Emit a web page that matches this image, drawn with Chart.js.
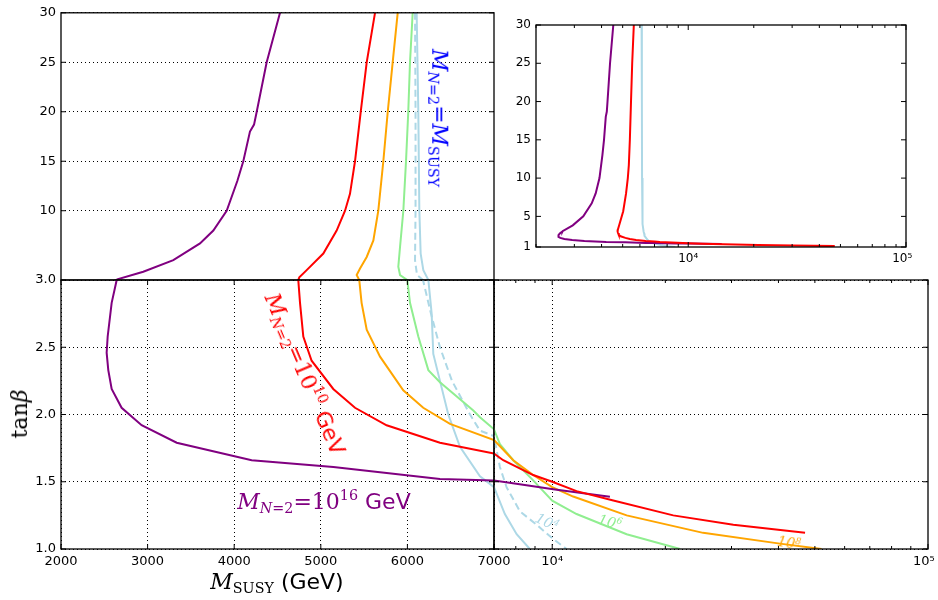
<!DOCTYPE html>
<html>
<head>
<meta charset="utf-8">
<script src="https://cdn.jsdelivr.net/npm/chart.js@4.4.1/dist/chart.umd.min.js"></script>
<style>
html, body { margin: 0; padding: 0; background: #fff; overflow: hidden; }
#wrap { position: relative; width: 938px; height: 600px; overflow: hidden; background: #fff; }
#wrap canvas { position: absolute; left: 0; top: 0; }
.t { position: absolute; white-space: nowrap; line-height: 1; font-family: 'DejaVu Serif', serif; transform: translate(-50%, -50%); }
.t i { font-family: 'DejaVu Serif', serif; font-style: italic; }
.t .s { font-family: 'DejaVu Sans', sans-serif; }
.t sub { font-size: 0.65em; vertical-align: -0.3em; }
.t sup { font-size: 0.65em; vertical-align: 0.6em; }
</style>
</head>
<body>
<div id="wrap">
  <canvas id="upper" width="1000" height="660"></canvas>
  <canvas id="lowerLeft" width="1000" height="660"></canvas>
  <canvas id="lowerRight" width="1000" height="660"></canvas>
  <canvas id="inset" width="1000" height="660"></canvas>

  <div class="t" style="left:438px;top:118px;font-size:22px;color:#0000ff;transform:translate(-50%,-50%) rotate(90deg)"><i>M</i><sub><i>N</i>=2</sub>=<i>M</i><sub>SUSY</sub></div>
  <div class="t" style="left:305px;top:374px;font-size:22px;color:#ff0000;transform:translate(-50%,-50%) rotate(67deg)"><i>M</i><sub><i>N</i>=2</sub>=10<sup>10</sup><span class="s">&nbsp;GeV</span></div>
  <div class="t" style="left:324px;top:502px;font-size:22px;color:#800080"><i>M</i><sub><i>N</i>=2</sub>=10<sup>16</sup><span class="s">&nbsp;GeV</span></div>
  <div class="t" style="left:547px;top:522px;font-size:14px;color:#add8e6;transform:translate(-50%,-50%) rotate(25deg)"><i>10<sup>4</sup></i></div>
  <div class="t" style="left:610px;top:522px;font-size:14px;color:#90ee90;transform:translate(-50%,-50%) rotate(15deg)"><i>10<sup>6</sup></i></div>
  <div class="t" style="left:789px;top:543px;font-size:14px;color:#ffa500;transform:translate(-50%,-50%) rotate(10deg)"><i>10<sup>8</sup></i></div>
  <div class="t" style="left:277px;top:583px;font-size:22px;color:#000"><i>M</i><sub>SUSY</sub><span class="s">&nbsp;(GeV)</span></div>
  <div class="t" style="left:20px;top:414px;font-size:22px;color:#000;transform:translate(-50%,-50%) rotate(-90deg)">tan<i>β</i></div>
</div>

<script>
// curves: M_SUSY (GeV) vs tan(beta), one pair per M_N=2
const purpleM   = [4529, 4375, 4260, 4229, 4182, 4105, 4036, 3913, 3759, 3605, 3297, 2950, 2650, 2643, 2585, 2539, 2527, 2546, 2585, 2700, 2931, 3336, 4202, 5145, 6376, 7000, 8721, 10060, 14240]
const purpleTan = [30, 25, 20, 18.7, 18, 15, 13, 10, 8, 6.7, 5, 3.83, 3.07, 3.0, 2.83, 2.58, 2.46, 2.33, 2.19, 2.05, 1.92, 1.79, 1.66, 1.61, 1.52, 1.51, 1.47, 1.445, 1.388]

const redM   = [5626, 5530, 5461, 5395, 5337, 5280, 5183, 5029, 4837, 4752, 4740, 4760, 4798, 4894, 5144, 5395, 5760, 6376, 7000, 7407, 8900, 10000, 11610, 14540, 20990, 30340, 47080]
const redTan = [30, 25, 20, 15, 11.7, 10, 8, 5.67, 4, 3.27, 3.0, 2.83, 2.58, 2.4, 2.19, 2.05, 1.92, 1.79, 1.71, 1.66, 1.55, 1.5, 1.43, 1.36, 1.25, 1.18, 1.12]

const orangeM   = [5888, 5830, 5773, 5722, 5664, 5607, 5530, 5453, 5414, 5444, 5471, 5530, 5684, 5952, 6183, 6492, 7000, 7876, 8900, 10000, 11370, 15780, 25210, 40350, 52100]
const orangeTan = [30, 25, 20, 15, 10, 7, 5.33, 4.17, 3.5, 3.0, 2.83, 2.63, 2.43, 2.18, 2.05, 1.93, 1.81, 1.66, 1.55, 1.46, 1.39, 1.25, 1.12, 1.04, 1.0]

const greenM   = [6061, 6030, 6010, 5984, 5953, 5915, 5895, 5915, 5999, 6030, 6126, 6242, 6376, 6761, 6838, 7000, 7257, 7876, 8900, 10000, 11610, 15780, 21890]
const greenTan = [30, 25, 20, 15, 10, 6.35, 4.34, 3.5, 3.0, 2.83, 2.58, 2.33, 2.24, 2.03, 1.98, 1.89, 1.78, 1.66, 1.51, 1.36, 1.26, 1.11, 1.0]

const blueM   = [6107, 6126, 6138, 6153, 6184, 6242, 6280, 6299, 6376, 6472, 6607, 6838, 7000, 7482, 8042, 8720]
const blueTan = [30, 20, 10, 5.67, 4, 3.0, 2.75, 2.45, 2.25, 2.0, 1.76, 1.54, 1.46, 1.26, 1.11, 1.0]

const blueDashM   = [6088, 6094, 6094, 6088, 6111, 6180, 6272, 6376, 6515, 6723, 6838, 7000, 7257, 7560, 8205, 9090, 10000, 10920]
const blueDashTan = [30, 20, 10, 5, 3.5, 3.0, 2.75, 2.5, 2.25, 2.0, 1.88, 1.84, 1.61, 1.46, 1.28, 1.18, 1.08, 1.0]

// tick values
const upperTanTicks = [10, 15, 20, 25, 30]
const lowerTanTicks = [1.0, 1.5, 2.0, 2.5, 3.0]
const linearMTicks  = [2000, 3000, 4000, 5000, 6000, 7000]
const logMTicks     = [7000, 8000, 9000, 1e4, 2e4, 3e4, 4e4, 5e4, 6e4, 7e4, 8e4, 9e4, 1e5]
const insetMTicks   = [2000, 3000, 4000, 5000, 6000, 7000, 8000, 9000, 1e4, 2e4, 3e4, 4e4, 5e4, 6e4, 7e4, 8e4, 9e4, 1e5]
const insetTanTicks = [1, 5, 10, 15, 20, 25, 30]

Chart.defaults.font.family = "'DejaVu Sans', sans-serif"
Chart.defaults.font.size = 13
Chart.defaults.color = '#000'

const CW = 1000, CH = 660

const SUP = '⁰¹²³⁴⁵⁶⁷⁸⁹'
const isDecade = v => Math.abs(Math.log10(v) - Math.round(Math.log10(v))) < 1e-9
// last label gets a trailing space so it stays inside the page, like the original
const logLabel = (v, i, ticks) => {
    if (!isDecade(v)) return ''
    const s = '10' + String(Math.round(Math.log10(v))).split('').map(d => SUP[+d]).join('')
    return i === ticks.length - 1 ? s + '  ' : s
}

function series(xs, ys, color, dash) {
    return {
        data: xs.map((x, i) => ({ x, y: ys[i] })),
        borderColor: color,
        borderWidth: 2,
        borderDash: dash || [],
        showLine: true,
        pointRadius: 0,
        fill: false,
        tension: 0,
        clip: 0
    }
}

function axis(type, min, max, tickVals, o) {
    return {
        type, min, max,
        display: o.display !== false,
        afterBuildTicks: s => { s.ticks = tickVals.map(v => ({ value: v })) },
        afterFit: s => {
            if (o.size == null) return
            if (s.isHorizontal()) s.height = o.size
            else s.width = o.size
        },
        grid: {
            display: o.grid !== false,
            color: o.gridColor || '#000',
            lineWidth: 1,
            drawTicks: false
        },
        border: { display: false, dash: [1, 3] },
        ticks: {
            display: o.labels !== false,
            callback: o.fmt || (v => v),
            padding: o.pad ?? 5,
            autoSkip: false,
            maxRotation: 0,
            font: { size: o.fontSize || 13 }
        }
    }
}

// box with inward tick marks, like the matplotlib frame
const framePlugin = {
    id: 'frame',
    afterDatasetsDraw(chart, args, o) {
        const { ctx, chartArea: a } = chart
        const xs = chart.scales.x, ys = chart.scales.y
        ctx.save()
        ctx.strokeStyle = '#000'
        ctx.lineWidth = 1
        ctx.beginPath()
        if (o.x) xs.ticks.forEach(t => {
            const p = xs.getPixelForValue(t.value)
            const len = (o.logX && !isDecade(t.value)) ? 3 : 5
            ctx.moveTo(p, a.bottom); ctx.lineTo(p, a.bottom - len)
            ctx.moveTo(p, a.top); ctx.lineTo(p, a.top + len)
        })
        if (o.y) ys.ticks.forEach(t => {
            const p = ys.getPixelForValue(t.value)
            ctx.moveTo(a.left, p); ctx.lineTo(a.left + 5, p)
            ctx.moveTo(a.right, p); ctx.lineTo(a.right - 5, p)
        })
        ctx.stroke()
        ctx.lineWidth = 1.3
        ctx.strokeRect(a.left, a.top, a.right - a.left, a.bottom - a.top)
        ctx.restore()
    }
}

function panel(id, area, scales, datasets, frame, yW, xH) {
    new Chart(document.getElementById(id).getContext('2d'), {
        type: 'scatter',
        data: { datasets },
        options: {
            responsive: false,
            animation: false,
            events: [],
            layout: {
                padding: {
                    left: area.l - yW,
                    top: area.t,
                    right: CW - area.r,
                    bottom: CH - area.b - xH
                }
            },
            plugins: {
                legend: { display: false },
                tooltip: { enabled: false },
                frame
            },
            scales
        },
        plugins: [framePlugin]
    })
}

const mainSets = () => [
    series(redM, redTan, '#ff0000'),
    series(purpleM, purpleTan, '#800080'),
    series(orangeM, orangeTan, '#ffa500'),
    series(greenM, greenTan, '#90ee90'),
    series(blueM, blueTan, '#add8e6'),
    series(blueDashM, blueDashTan, '#add8e6', [7, 4])
]

// upper left: tan(beta) 3..30, linear M
panel('upper', { l: 61, t: 11, r: 494, b: 280 }, {
    x: axis('linear', 2000, 7000, linearMTicks, { display: false }),
    y: axis('linear', 3, 30, upperTanTicks, { size: 60 })
}, mainSets(), { y: true }, 60, 0)

// lower left: tan(beta) 1..3, linear M
panel('lowerLeft', { l: 61, t: 280, r: 494, b: 549 }, {
    x: axis('linear', 2000, 7000, linearMTicks, { size: 30 }),
    y: axis('linear', 1, 3, lowerTanTicks, { size: 60, fmt: v => v.toFixed(1) })
}, mainSets(), { x: true, y: true }, 60, 30)

// lower right: tan(beta) 1..3, log M
panel('lowerRight', { l: 494, t: 280, r: 928, b: 549 }, {
    x: axis('logarithmic', 7000, 1e5, logMTicks, {
        size: 30, fmt: logLabel,
        gridColor: c => (c.tick && c.tick.value === 1e4) ? '#000' : 'rgba(0,0,0,0)'
    }),
    y: axis('linear', 1, 3, lowerTanTicks, { size: 0, labels: false })
}, mainSets(), { x: true, y: true, logX: true }, 0, 30)

// inset: full tan(beta) range, log M
panel('inset', { l: 536, t: 25, r: 906, b: 247 }, {
    x: axis('logarithmic', 2000, 1e5, insetMTicks, { size: 28, fmt: logLabel, grid: false, fontSize: 12 }),
    y: axis('linear', 1, 30, insetTanTicks, { size: 50, grid: false, fontSize: 12 })
}, [
    series(redM, redTan, '#ff0000'),
    series(purpleM, purpleTan, '#800080'),
    series(blueM, blueTan, '#add8e6')
], { x: true, y: true, logX: true }, 50, 28)
</script>
</body>
</html>
